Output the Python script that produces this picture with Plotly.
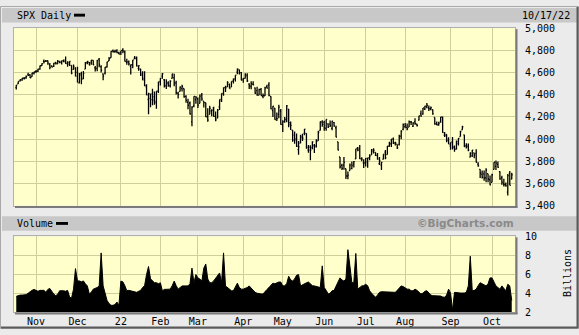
import pandas as pd
import plotly.graph_objects as go

# ---------------- data ----------------
holidays = ["2021-11-25", "2021-12-24", "2022-01-17", "2022-02-21", "2022-04-15",
            "2022-05-30", "2022-06-20", "2022-07-04", "2022-09-05"]
dates = [d for d in pd.bdate_range("2021-10-18", "2022-10-17")
         if d.strftime("%Y-%m-%d") not in holidays]

opens = [
    4463, 4498, 4524, 4532, 4547, 4553, 4579, 4580, 4562, 4595,
    4610, 4613, 4630, 4662, 4700, 4702, 4707, 4670, 4660, 4656, 4689, 4679, 4701, 4700, 4708, 4712, 4679, 4675, 4665, 4628, 4640,
    4602, 4504, 4589, 4548, 4631, 4690, 4691, 4687, 4710, 4643, 4637, 4720, 4652, 4587, 4594, 4650, 4704, 4733, 4796, 4788, 4795, 4776,
    4778, 4804, 4787, 4693, 4698, 4655, 4670, 4729, 4733, 4638, 4632, 4588, 4548, 4471, 4357, 4367, 4408, 4381, 4337, 4431,
    4519, 4567, 4535, 4482, 4506, 4480, 4547, 4553, 4507, 4412, 4430, 4456, 4456, 4385, 4332, 4325, 4155, 4299, 4355,
    4364, 4322, 4401, 4342, 4328, 4203, 4223, 4253, 4280, 4202, 4188, 4289, 4345, 4407, 4463, 4470, 4494, 4469, 4522, 4541, 4603, 4624, 4599,
    4540, 4547, 4573, 4495, 4474, 4495, 4462, 4437, 4397, 4449, 4386, 4390, 4473, 4489, 4385, 4256, 4279, 4187, 4222, 4253,
    4131, 4159, 4181, 4270, 4129, 4081, 4036, 3990, 3904, 3963, 4013, 4052, 4052, 3900, 3928, 3920, 3942, 3930, 3985, 4077, 4152,
    4150, 4096, 4137, 4135, 4097, 4148, 4102, 3975, 3838, 3763, 3765, 3733, 3665, 3716, 3734, 3774, 3821, 3920, 3913, 3826, 3785,
    3782, 3793, 3831, 3858, 3889, 3880, 3851, 3778, 3765, 3818, 3883, 3860, 3935, 3956, 3999, 3965, 3954, 3951, 4027, 4087,
    4113, 4105, 4108, 4155, 4115, 4155, 4134, 4171, 4227, 4225, 4270, 4290, 4281, 4273, 4266, 4195, 4133, 4127, 4154, 4198, 4035, 4041, 4000,
    3937, 3977, 3930, 3910, 3960, 4022, 4084, 4038, 3940, 3932, 3837, 3849, 3876, 3871, 3773, 3727, 3682, 3686, 3651, 3688, 3633,
    3610, 3726, 3753, 3772, 3707, 3652, 3596, 3590, 3521, 3690, 3638,
]
highs = [
    4488, 4520, 4540, 4551, 4560, 4573, 4598, 4585, 4597, 4608,
    4620, 4635, 4664, 4684, 4718, 4714, 4708, 4685, 4664, 4688, 4697, 4714, 4701, 4708, 4718, 4744, 4701, 4702, 4665, 4673, 4647,
    4652, 4596, 4608, 4613, 4694, 4705, 4695, 4713, 4710, 4660, 4712, 4732, 4666, 4592, 4651, 4697, 4740, 4791, 4807, 4805, 4809, 4787,
    4797, 4819, 4798, 4725, 4708, 4673, 4714, 4749, 4745, 4666, 4633, 4612, 4611, 4495, 4417, 4411, 4454, 4429, 4432, 4517,
    4550, 4595, 4542, 4540, 4521, 4531, 4589, 4589, 4527, 4426, 4473, 4490, 4456, 4395, 4363, 4339, 4295, 4385, 4389,
    4375, 4401, 4416, 4342, 4328, 4277, 4300, 4268, 4291, 4248, 4271, 4357, 4412, 4465, 4481, 4522, 4501, 4520, 4546, 4576, 4637, 4627, 4604,
    4549, 4593, 4594, 4503, 4521, 4521, 4464, 4471, 4453, 4461, 4410, 4471, 4489, 4513, 4386, 4299, 4279, 4240, 4309, 4270,
    4170, 4200, 4308, 4270, 4158, 4082, 4069, 4050, 3982, 4039, 4047, 4090, 4052, 3946, 3944, 3981, 3955, 3999, 4076, 4158, 4169,
    4166, 4177, 4143, 4168, 4165, 4154, 4119, 3975, 3838, 3778, 3838, 3733, 3708, 3779, 3798, 3802, 3913, 3928, 3946, 3837, 3819,
    3829, 3832, 3864, 3911, 3918, 3880, 3874, 3838, 3796, 3863, 3902, 3938, 3975, 4000, 4013, 3975, 3954, 4039, 4079, 4141,
    4145, 4141, 4168, 4162, 4152, 4187, 4138, 4211, 4258, 4280, 4301, 4325, 4303, 4293, 4266, 4195, 4159, 4157, 4200, 4204, 4063, 4044, 4016,
    3970, 4019, 3943, 3987, 4010, 4076, 4119, 4038, 3962, 3960, 3880, 3901, 3876, 3908, 3791, 3727, 3716, 3717, 3736, 3688, 3672,
    3687, 3791, 3807, 3798, 3709, 3669, 3641, 3608, 3686, 3713, 3697,
]
lows = [
    4447, 4496, 4520, 4526, 4538, 4544, 4570, 4551, 4562, 4582,
    4595, 4604, 4624, 4662, 4681, 4694, 4670, 4630, 4648, 4651, 4672, 4679, 4684, 4673, 4693, 4680, 4652, 4660, 4585, 4626, 4564,
    4510, 4504, 4495, 4540, 4631, 4674, 4665, 4671, 4667, 4609, 4611, 4648, 4600, 4531, 4583, 4645, 4703, 4733, 4780, 4778, 4775, 4765,
    4759, 4774, 4700, 4671, 4663, 4582, 4638, 4719, 4654, 4615, 4569, 4531, 4477, 4396, 4223, 4287, 4305, 4309, 4273, 4415,
    4484, 4544, 4465, 4452, 4472, 4466, 4547, 4477, 4402, 4365, 4430, 4430, 4373, 4327, 4268, 4222, 4115, 4287, 4318,
    4279, 4322, 4345, 4284, 4199, 4157, 4223, 4206, 4201, 4161, 4187, 4262, 4335, 4390, 4425, 4470, 4455, 4469, 4501, 4518, 4585, 4582, 4530,
    4507, 4546, 4514, 4451, 4450, 4485, 4408, 4391, 4395, 4392, 4367, 4388, 4455, 4385, 4268, 4200, 4175, 4162, 4188, 4128,
    4063, 4147, 4152, 4107, 4081, 3976, 3957, 3928, 3859, 3963, 3983, 4034, 3912, 3877, 3810, 3909, 3875, 3925, 3984, 4077, 4110,
    4074, 4074, 4099, 4109, 4080, 4110, 4017, 3900, 3735, 3722, 3723, 3640, 3637, 3716, 3728, 3744, 3821, 3889, 3820, 3799, 3738,
    3752, 3742, 3810, 3858, 3869, 3847, 3814, 3766, 3721, 3818, 3818, 3860, 3930, 3928, 3955, 3942, 3911, 3942, 3999, 4080,
    4097, 4080, 4108, 4127, 4108, 4128, 4113, 4168, 4202, 4220, 4262, 4278, 4253, 4260, 4219, 4130, 4124, 4120, 4147, 4057, 4018, 3971, 3955,
    3904, 3906, 3886, 3906, 3943, 4022, 4083, 3928, 3915, 3890, 3837, 3839, 3828, 3789, 3750, 3648, 3644, 3624, 3611, 3611, 3584,
    3610, 3726, 3722, 3741, 3632, 3589, 3573, 3571, 3492, 3584, 3638,
]
closes = [
    4486, 4520, 4536, 4550, 4545, 4566, 4575, 4552, 4596, 4605,
    4614, 4631, 4661, 4680, 4698, 4702, 4685, 4647, 4649, 4683, 4683, 4701, 4689, 4705, 4698, 4683, 4691, 4701, 4595, 4655, 4567,
    4513, 4577, 4538, 4592, 4687, 4701, 4667, 4712, 4669, 4634, 4710, 4669, 4621, 4568, 4649, 4697, 4726, 4791, 4786, 4793, 4779, 4766,
    4797, 4794, 4701, 4696, 4677, 4670, 4713, 4726, 4659, 4663, 4577, 4533, 4483, 4398, 4410, 4356, 4350, 4327, 4432, 4516,
    4547, 4589, 4477, 4501, 4484, 4522, 4587, 4504, 4419, 4402, 4471, 4475, 4380, 4349, 4305, 4226, 4289, 4385, 4374,
    4306, 4387, 4363, 4329, 4201, 4171, 4278, 4260, 4204, 4173, 4262, 4358, 4412, 4463, 4461, 4512, 4456, 4520, 4543, 4576, 4632, 4602, 4530,
    4546, 4583, 4525, 4481, 4500, 4488, 4413, 4397, 4447, 4393, 4392, 4462, 4459, 4394, 4272, 4296, 4175, 4184, 4288, 4132,
    4155, 4175, 4300, 4147, 4123, 3991, 4001, 3935, 3930, 4024, 4008, 4089, 3924, 3901, 3901, 3974, 3941, 3979, 4058, 4158, 4132,
    4101, 4177, 4109, 4121, 4161, 4116, 4018, 3901, 3750, 3735, 3790, 3667, 3675, 3765, 3760, 3796, 3912, 3900, 3822, 3819, 3785,
    3825, 3831, 3845, 3903, 3899, 3854, 3819, 3802, 3790, 3863, 3831, 3937, 3960, 3999, 3962, 3967, 3921, 4024, 4072, 4130,
    4119, 4091, 4155, 4152, 4145, 4140, 4122, 4210, 4207, 4280, 4297, 4305, 4274, 4284, 4228, 4138, 4129, 4141, 4199, 4058, 4031, 3986, 3955,
    3967, 3924, 3908, 3980, 4006, 4067, 4110, 3933, 3946, 3901, 3873, 3900, 3856, 3790, 3758, 3693, 3655, 3647, 3719, 3640, 3586,
    3678, 3791, 3783, 3745, 3640, 3612, 3589, 3577, 3670, 3583, 3678,
]
volume_bn = [
    3.67, 3.75, 3.8, 3.8, 3.8, 3.85, 4.0, 4.2, 4.3, 4.4,
    4.3, 4.2, 4.3, 4.26, 4.3, 4.1, 4.4, 4.5, 4.2, 3.9, 3.74, 3.9, 4.26, 4.3, 4.26, 4.2, 4.3, 3.6, 3.47, 4.43, 6.6,
    5.3, 5.3, 5.2, 5.3, 5.0, 4.77, 3.92, 4.1, 4.43, 4.5, 4.6, 4.77, 8.26, 4.77, 4.0, 3.23, 2.9, 2.72, 2.72, 2.8, 3.06, 2.72,
    5.28, 5.2, 4.8, 4.26, 4.3, 4.26, 4.2, 4.1, 4.09, 4.2, 4.3, 4.6, 4.8, 5.97, 6.82, 5.52, 5.3, 5.11, 5.11, 5.0,
    5.1, 4.26, 4.4, 4.43, 4.43, 4.43, 4.8, 5.28, 4.8, 4.43, 4.6, 4.77, 4.77, 4.77, 4.77, 5.0, 6.65, 5.11, 5.97,
    5.62, 5.5, 5.28, 6.65, 7.09, 5.5, 5.11, 5.11, 5.3, 5.62, 5.9, 6.14, 5.11, 8.26, 4.77, 4.6, 4.4, 4.26, 4.26, 4.6, 5.06, 4.6, 4.43,
    4.43, 4.5, 4.6, 4.77, 4.5, 4.3, 4.09, 4.0, 3.92, 3.92, 3.92, 4.2, 4.4, 4.6, 4.8, 5.06, 5.0, 5.1, 5.18, 5.18,
    4.77, 4.8, 5.0, 5.79, 5.4, 5.3, 5.5, 5.9, 5.97, 4.77, 4.9, 5.0, 5.1, 5.18, 5.0, 4.8, 4.77, 4.7, 4.6, 4.6, 6.89,
    4.6, 4.3, 3.92, 4.0, 4.26, 4.3, 4.8, 5.3, 5.62, 5.4, 5.28, 5.5, 8.6, 6.9, 5.11, 5.11, 8.2, 4.43, 4.6, 4.77, 4.8,
    4.94, 4.8, 4.26, 4.0, 3.8, 3.57, 3.8, 4.09, 4.16, 4.16, 4.16, 4.16, 4.16, 4.16, 4.1, 4.09, 4.3, 4.6, 4.77, 4.7,
    4.6, 4.43, 4.43, 4.26, 4.26, 4.43, 4.3, 4.1, 3.92, 4.0, 4.2, 4.26, 4.0, 3.8, 3.74, 3.74, 3.74, 3.74, 3.7, 3.6, 3.57, 3.8, 4.43,
    4.0, 2.21, 4.09, 4.05, 4.02, 4.02, 4.02, 4.02, 4.1, 4.77, 7.91, 4.26, 4.3, 4.43, 4.8, 5.11, 5.0, 4.9, 4.77, 5.0, 5.62,
    5.62, 5.2, 4.77, 4.6, 4.43, 4.77, 4.5, 4.26, 4.94, 4.77, 3.23,
]
month_labels = ["Nov", "Dec", "22", "Feb", "Mar", "Apr", "May", "Jun", "Jul", "Aug", "Sep", "Oct"]
price_ticks = [3400, 3600, 3800, 4000, 4200, 4400, 4600, 4800, 5000]
volume_ticks = [2, 4, 6, 8, 10]

# --------------- derived positions ---------------
idx = list(range(len(dates)))
month_starts = []
for i, d in enumerate(dates):
    if i > 0 and d.month != dates[i - 1].month:
        month_starts.append(i)

W, H = 579, 335


def px(x):
    return x / W


def py(y):
    return 1 - y / H


FONT = "DejaVu Sans Mono"
GRID = "#cfcf9a"
BG = "#ffffcc"

fig = go.Figure()
fig.add_trace(go.Ohlc(
    x=idx, open=opens, high=highs, low=lows, close=closes,
    increasing=dict(line=dict(color="black", width=1.3)),
    decreasing=dict(line=dict(color="black", width=1.3)),
    tickwidth=0.5, xaxis="x", yaxis="y", showlegend=False, hoverinfo="skip",
))
fig.add_trace(go.Scatter(
    x=idx, y=volume_bn, mode="lines", fill="tozeroy", fillcolor="black",
    line=dict(color="black", width=1), xaxis="x2", yaxis="y2",
    showlegend=False, hoverinfo="skip",
))

xr = [-1.15, 252.65]
common_x = dict(range=xr, tickvals=month_starts, showgrid=True, gridcolor=GRID,
                gridwidth=1, zeroline=False, showline=True, linecolor="#b0b0b0",
                mirror=True, ticks="", fixedrange=True)
fig.update_layout(
    width=W, height=H, margin=dict(l=0, r=0, t=0, b=0),
    paper_bgcolor="#ebebeb", plot_bgcolor=BG,
    font=dict(family=FONT, size=10, color="black"),
    xaxis=dict(domain=[px(14), px(515)], anchor="y", showticklabels=False,
               rangeslider=dict(visible=False), **common_x),
    yaxis=dict(domain=[py(207), py(23)], range=[3400, 5000], side="right",
               tickvals=price_ticks, tickformat=",d", showgrid=True, gridcolor=GRID,
               zeroline=False, showline=True, linecolor="#b0b0b0", mirror=True,
               ticks="", ticklabelstandoff=7, anchor="x",
               tickfont=dict(family=FONT, size=10, color="black")),
    xaxis2=dict(domain=[px(14), px(515)], anchor="y2", ticktext=month_labels,
                tickfont=dict(family=FONT, size=10, color="black"), **common_x),
    yaxis2=dict(domain=[py(317.5), py(239)], range=[2, 10], side="right",
                tickvals=volume_ticks, showgrid=True, gridcolor=GRID,
                zeroline=False, showline=True, linecolor="#b0b0b0", mirror=True,
                ticks="", ticklabelstandoff=7, anchor="x2",
                tickfont=dict(family=FONT, size=10, color="black")),
)

shapes = []
# header bands
for (y0, y1) in [(2, 17), (218, 233)]:
    shapes.append(dict(type="rect", xref="paper", yref="paper", x0=px(2), x1=px(577),
                       y0=py(y1), y1=py(y0), fillcolor="#c8c8c8", line=dict(width=0),
                       layer="below"))
# legend dashes
shapes.append(dict(type="rect", xref="paper", yref="paper", x0=px(74), x1=px(85),
                   y0=py(11), y1=py(8), fillcolor="black", line=dict(width=0)))
shapes.append(dict(type="rect", xref="paper", yref="paper", x0=px(56), x1=px(68),
                   y0=py(227), y1=py(224), fillcolor="black", line=dict(width=0)))
# plot shadows
for (top, bot) in [(23, 207), (239, 317.5)]:
    shapes.append(dict(type="line", xref="paper", yref="paper", x0=px(516.5), x1=px(516.5),
                       y0=py(bot + 2), y1=py(top + 1), line=dict(color="#7a7a7a", width=2)))
    shapes.append(dict(type="line", xref="paper", yref="paper", x0=px(15), x1=px(517.5),
                       y0=py(bot + 1.5), y1=py(bot + 1.5), line=dict(color="#7a7a7a", width=2)))
# outer frame
shapes.append(dict(type="rect", xref="paper", yref="paper", x0=px(0.5), x1=px(578.5),
                   y0=py(334.5), y1=py(0.5), line=dict(color="#a8a8a8", width=1)))
shapes.append(dict(type="line", xref="paper", yref="paper", x0=px(577.5), x1=px(577.5),
                   y0=py(334), y1=py(1), line=dict(color="#5a5a5a", width=2)))
shapes.append(dict(type="line", xref="paper", yref="paper", x0=px(1), x1=px(578),
                   y0=py(333.5), y1=py(333.5), line=dict(color="#5a5a5a", width=2)))
fig.update_layout(shapes=shapes)

ann = [
    dict(text="SPX Daily", x=px(15), y=py(9.5), xanchor="left", yanchor="middle"),
    dict(text="10/17/22", x=px(572), y=py(9.5), xanchor="right", yanchor="middle"),
    dict(text="Volume", x=px(15), y=py(225.5), xanchor="left", yanchor="middle"),
    dict(text="<b>©BigCharts.com</b>", x=px(516), y=py(225.5), xanchor="right",
         yanchor="middle", font=dict(family="DejaVu Sans", size=10.5, color="#8a8a8a")),
    dict(text="Billions", x=px(567), y=py(277), xanchor="center", yanchor="middle",
         textangle=-90),
]
for a in ann:
    a.update(xref="paper", yref="paper", showarrow=False)
    a.setdefault("font", dict(family=FONT, size=10, color="black"))
fig.update_layout(annotations=ann)

fig.write_html("out.html")
